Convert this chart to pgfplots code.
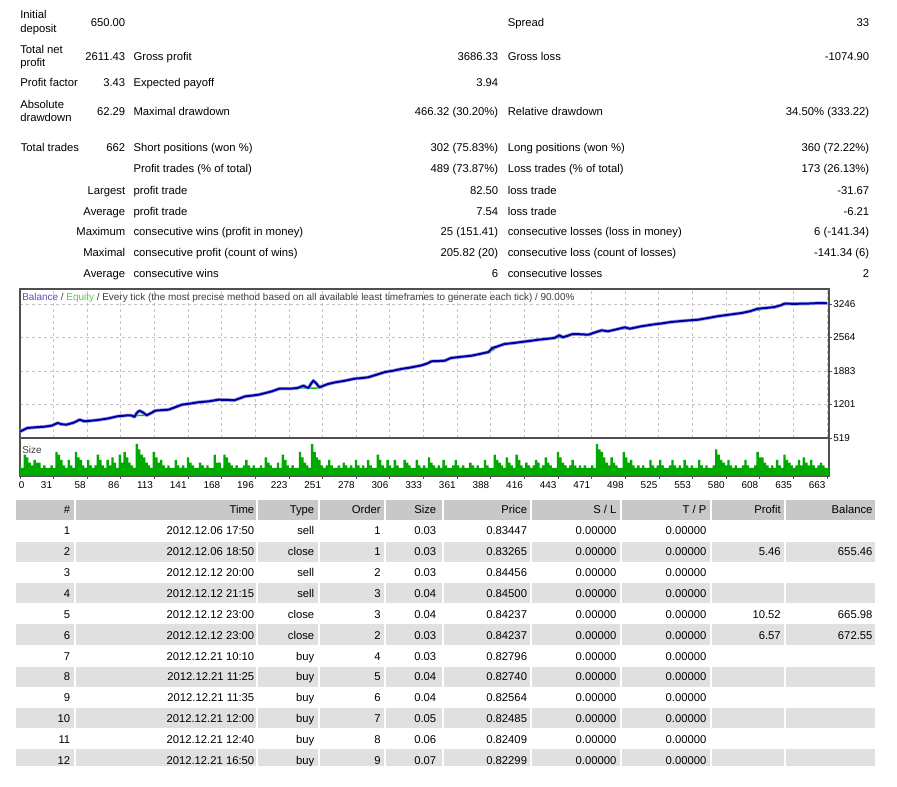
\documentclass[border=0pt]{standalone}
\usepackage{fontspec}
\setmainfont{Liberation Sans}
\usepackage{pgfplots}
\pgfplotsset{compat=1.18}

\definecolor{framegray}{HTML}{505050}
\definecolor{gridgray}{HTML}{C4C4C4}
\definecolor{balblue}{HTML}{0000A0}
\definecolor{balhalo}{HTML}{A0A0E6}
\definecolor{eqgreen}{HTML}{00C000}
\definecolor{sizegreen}{HTML}{00AA00}
\definecolor{hdrgray}{HTML}{C8C8C8}
\definecolor{rowgray}{HTML}{E0E0E0}
\definecolor{lblblue}{HTML}{5050C8}
\definecolor{lblgreen}{HTML}{48CC48}
\definecolor{lbltext}{HTML}{3C3C3C}

\newcommand\rep{\fontsize{8.45pt}{10pt}\selectfont}
\newcommand\chartfont{\fontsize{7.45pt}{9pt}\selectfont}
% text helpers (coordinates in pixels, y measured downwards)
\newcommand\Lt[3]{\node[anchor=mid west] at (#1,-#2) {#3};}
\newcommand\Rt[3]{\node[anchor=mid east] at (#1,-#2) {#3};}
% one row of the deal list; S/L and T/P are always zero
\newcommand\Row[9]{%
  \Rt{70.5}{#1}{#2}\Rt{254.5}{#1}{#3}\Rt{314.5}{#1}{#4}\Rt{381}{#1}{#5}%
  \Rt{436.5}{#1}{#6}\Rt{527.3}{#1}{#7}\Rt{616.7}{#1}{0.00000}%
  \Rt{706.7}{#1}{0.00000}\Rt{781}{#1}{#8}\Rt{872.7}{#1}{#9}}
\newcommand\Band[3]{%
  \foreach \a/\b in {16/74,76/256,258/317.5,319.5/383.5,385.5/441.5,443.5/529.5,531.5/619.5,621.5/709.5,711.5/784,786/875}
    {\fill[#3] (\a,-#1) rectangle (\b,-#2);}}

\begin{document}
\begin{tikzpicture}
\begin{scope}[x=0.75pt,y=0.75pt,every node/.style={inner sep=0pt,font=\rep}]
\path[use as bounding box] (0,0) rectangle (897,-787);

% ---------- summary ----------
\Lt{20}{15}{Initial}\Lt{20}{29.3}{deposit}\Rt{125.5}{22.5}{650.00}
\Lt{507.5}{22.5}{Spread}\Rt{869.5}{22.5}{33}

\Lt{20}{50}{Total net}\Lt{20}{63.3}{profit}\Rt{125.5}{56.7}{2611.43}
\Lt{133.3}{56.7}{Gross profit}\Rt{498.5}{56.7}{3686.33}
\Lt{507.5}{56.7}{Gross loss}\Rt{869.5}{56.7}{-1074.90}

\Lt{20}{82.5}{Profit factor}\Rt{125.5}{82.5}{3.43}
\Lt{133.3}{82.5}{Expected payoff}\Rt{498.5}{82.5}{3.94}

\Lt{20}{105}{Absolute}\Lt{20}{118.3}{drawdown}\Rt{125.5}{111.7}{62.29}
\Lt{133.3}{111.7}{Maximal drawdown}\Rt{498.5}{111.7}{466.32 (30.20\%)}
\Lt{507.5}{111.7}{Relative drawdown}\Rt{869.5}{111.7}{34.50\% (333.22)}

\Lt{20.5}{148.3}{Total trades}\Rt{125.5}{148.3}{662}
\Lt{133.3}{148.3}{Short positions (won \%)}\Rt{498.5}{148.3}{302 (75.83\%)}
\Lt{507.5}{148.3}{Long positions (won \%)}\Rt{869.5}{148.3}{360 (72.22\%)}

\Lt{133.3}{169.3}{Profit trades (\% of total)}\Rt{498.5}{169.3}{489 (73.87\%)}
\Lt{507.5}{169.3}{Loss trades (\% of total)}\Rt{869.5}{169.3}{173 (26.13\%)}

\Rt{125.5}{190.7}{Largest}\Lt{133.3}{190.7}{profit trade}\Rt{498.5}{190.7}{82.50}
\Lt{507.5}{190.7}{loss trade}\Rt{869.5}{190.7}{-31.67}

\Rt{125.5}{211.7}{Average}\Lt{133.3}{211.7}{profit trade}\Rt{498.5}{211.7}{7.54}
\Lt{507.5}{211.7}{loss trade}\Rt{869.5}{211.7}{-6.21}

\Rt{125.5}{232.3}{Maximum}\Lt{133.3}{232.3}{consecutive wins (profit in money)}\Rt{498.5}{232.3}{25 (151.41)}
\Lt{507.5}{232.3}{consecutive losses (loss in money)}\Rt{869.5}{232.3}{6 (-141.34)}

\Rt{125.5}{253.3}{Maximal}\Lt{133.3}{253.3}{consecutive profit (count of wins)}\Rt{498.5}{253.3}{205.82 (20)}
\Lt{507.5}{253.3}{consecutive loss (count of losses)}\Rt{869.5}{253.3}{-141.34 (6)}

\Rt{125.5}{274.3}{Average}\Lt{133.3}{274.3}{consecutive wins}\Rt{498.5}{274.3}{6}
\Lt{507.5}{274.3}{consecutive losses}\Rt{869.5}{274.3}{2}

% ---------- deal list ----------
\begin{scope}
\clip (0,-495) rectangle (897,-765.5);
\Band{500}{520}{hdrgray}
\Band{541.7}{561.7}{rowgray}
\Band{582.7}{603.3}{rowgray}
\Band{624.5}{645}{rowgray}
\Band{666.7}{686.7}{rowgray}
\Band{708}{728}{rowgray}
\Band{749}{769}{rowgray}
\Rt{70.5}{510}{\#}\Rt{254.5}{510}{Time}\Rt{314.5}{510}{Type}\Rt{381}{510}{Order}
\Rt{436.5}{510}{Size}\Rt{527.3}{510}{Price}\Rt{616.7}{510}{S / L}\Rt{706.7}{510}{T / P}
\Rt{781}{510}{Profit}\Rt{872.7}{510}{Balance}
\Row{531}{1}{2012.12.06 17:50}{sell}{1}{0.03}{0.83447}{}{}
\Row{552}{2}{2012.12.06 18:50}{close}{1}{0.03}{0.83265}{5.46}{655.46}
\Row{573}{3}{2012.12.12 20:00}{sell}{2}{0.03}{0.84456}{}{}
\Row{594}{4}{2012.12.12 21:15}{sell}{3}{0.04}{0.84500}{}{}
\Row{614.7}{5}{2012.12.12 23:00}{close}{3}{0.04}{0.84237}{10.52}{665.98}
\Row{635.5}{6}{2012.12.12 23:00}{close}{2}{0.03}{0.84237}{6.57}{672.55}
\Row{656.7}{7}{2012.12.21 10:10}{buy}{4}{0.03}{0.82796}{}{}
\Row{677}{8}{2012.12.21 11:25}{buy}{5}{0.04}{0.82740}{}{}
\Row{698}{9}{2012.12.21 11:35}{buy}{6}{0.04}{0.82564}{}{}
\Row{719}{10}{2012.12.21 12:00}{buy}{7}{0.05}{0.82485}{}{}
\Row{740}{11}{2012.12.21 12:40}{buy}{8}{0.06}{0.82409}{}{}
\Row{760.5}{12}{2012.12.21 16:50}{buy}{9}{0.07}{0.82299}{}{}
\end{scope}
\end{scope}

% ---------- balance / equity ----------
\begin{axis}[at={(15pt,-216.75pt)}, anchor=north west, scale only axis,
  width=606.75pt, height=111.75pt,
  xmin=0, xmax=664.6, ymin=519, ymax=3551,
  axis line style={draw=framegray, line width=1.1pt},
  xtick={27.625,55.25,82.875,110.5,138.125,165.75,193.375,221,248.625,276.25,303.875,331.5,359.125,386.75,414.375,442,469.625,497.25,524.875,552.5,580.125,607.75,635.375,663},
  xticklabels={}, xtick style={draw=none},
  ytick={519,1200.75,1882.5,2564.25,3246},
  yticklabels={519,1201,1883,2564,3246},
  ytick pos=right, yticklabel pos=right,
  tick align=outside, major tick length=2.25pt,
  ytick style={draw=framegray, line width=0.6pt},
  yticklabel style={font=\chartfont, anchor=west, inner sep=0pt, xshift=0.8pt},
  /pgf/number format/assume math mode=true,
  xmajorgrids, ymajorgrids,
  grid style={gridgray, line width=0.7pt, dash pattern=on 2.25pt off 2.25pt},
  clip=true]
\addplot[eqgreen, line width=1.1pt] coordinates {
(0,650)(6,722)(12,735)(20,749)(26,770)(31,824)(34,790)(36,780)(38,785)(44,830)(49,891)(51,855)(53,855)(58,870)(64,885)(72,915)(80,960)(89,981)(92,970)(94,960)(96,975)(98,978)(101,978)(104,981)(108,1020)(111,1060)(116,1085)(122,1095)(128,1150)(133,1197)(140,1220)(146,1245)(155,1265)(163,1298)(166,1280)(170,1285)(174,1280)(176,1286)(181,1330)(185,1367)(190,1380)(196,1400)(201,1430)(207,1469)(213,1522)(222,1522)(228,1536)(231,1540)(233,1540)(235,1540)(237,1536)(239,1536)(241,1536)(243,1536)(246,1545)(250,1590)(253,1618)(259,1652)(266,1680)(275,1726)(281,1740)(286,1754)(292,1800)(300,1862)(306,1885)(313,1923)(320,1950)(330,1998)(335,2030)(338,2060)(344,2085)(349,2092)(354,2147)(362,2170)(371,2194)(378,2230)(385,2269)(386,2290)(388,2300)(392,2370)(398,2432)(405,2450)(412,2473)(419,2495)(426,2519)(432,2535)(439,2554)(443,2560)(446,2560)(450,2600)(454,2635)(460,2630)(467,2621)(472,2665)(478,2690)(483,2685)(490,2730)(497,2745)(501,2740)(510,2790)(519,2825)(527,2850)(535,2880)(546,2905)(557,2926)(565,2960)(573,2996)(583,3030)(593,3063)(600,3100)(606,3120)(610,3140)(613,3165)(620,3185)(625,3220)(628,3235)(636,3240)(645,3240)(650,3245)(654,3262)(663,3261)};
\addplot[balhalo, line width=2.6pt, line join=round] coordinates {
(0,650)(6,722)(12,735)(20,749)(26,770)(31,824)(34,800)(38,790)(44,830)(49,891)(53,859)(58,870)(64,885)(72,915)(80,960)(89,981)(92,975)(94,946)(96,1030)(98,1075)(101,1040)(104,981)(108,1030)(111,1075)(116,1085)(122,1095)(128,1150)(133,1197)(140,1220)(146,1245)(155,1265)(163,1298)(170,1295)(176,1286)(181,1330)(185,1367)(190,1380)(196,1400)(201,1430)(207,1469)(213,1522)(222,1522)(228,1536)(231,1565)(233,1583)(235,1555)(237,1536)(239,1620)(241,1685)(243,1640)(246,1550)(250,1590)(253,1618)(259,1652)(266,1680)(275,1726)(281,1740)(286,1754)(292,1800)(300,1862)(306,1885)(313,1923)(320,1950)(330,1998)(335,2040)(338,2080)(344,2085)(349,2092)(354,2147)(362,2170)(371,2194)(378,2230)(385,2269)(388,2350)(392,2380)(398,2432)(405,2450)(412,2473)(419,2495)(426,2519)(432,2535)(439,2554)(443,2609)(446,2568)(450,2600)(454,2635)(460,2630)(467,2621)(472,2665)(478,2711)(483,2690)(490,2730)(497,2772)(501,2743)(510,2790)(519,2825)(527,2850)(535,2880)(546,2905)(557,2926)(565,2960)(573,2996)(583,3030)(593,3063)(600,3100)(606,3150)(613,3165)(620,3185)(625,3220)(628,3252)(636,3250)(645,3252)(654,3262)(663,3261)};
\addplot[balblue, line width=1.5pt, line join=round] coordinates {
(0,650)(6,722)(12,735)(20,749)(26,770)(31,824)(34,800)(38,790)(44,830)(49,891)(53,859)(58,870)(64,885)(72,915)(80,960)(89,981)(92,975)(94,946)(96,1030)(98,1075)(101,1040)(104,981)(108,1030)(111,1075)(116,1085)(122,1095)(128,1150)(133,1197)(140,1220)(146,1245)(155,1265)(163,1298)(170,1295)(176,1286)(181,1330)(185,1367)(190,1380)(196,1400)(201,1430)(207,1469)(213,1522)(222,1522)(228,1536)(231,1565)(233,1583)(235,1555)(237,1536)(239,1620)(241,1685)(243,1640)(246,1550)(250,1590)(253,1618)(259,1652)(266,1680)(275,1726)(281,1740)(286,1754)(292,1800)(300,1862)(306,1885)(313,1923)(320,1950)(330,1998)(335,2040)(338,2080)(344,2085)(349,2092)(354,2147)(362,2170)(371,2194)(378,2230)(385,2269)(388,2350)(392,2380)(398,2432)(405,2450)(412,2473)(419,2495)(426,2519)(432,2535)(439,2554)(443,2609)(446,2568)(450,2600)(454,2635)(460,2630)(467,2621)(472,2665)(478,2711)(483,2690)(490,2730)(497,2772)(501,2743)(510,2790)(519,2825)(527,2850)(535,2880)(546,2905)(557,2926)(565,2960)(573,2996)(583,3030)(593,3063)(600,3100)(606,3150)(613,3165)(620,3185)(625,3220)(628,3252)(636,3250)(645,3252)(654,3262)(663,3261)};
\node[anchor=mid west, inner sep=0pt, font=\chartfont] at (rel axis cs:0.0025,0.945)
  {\textcolor{lblblue}{Balance} \textcolor{lbltext}{/} \textcolor{lblgreen}{Equity} \textcolor{lbltext}{/ Every tick (the most precise method based on all available least timeframes to generate each tick) / 90.00\%}};
\end{axis}

% ---------- position size ----------
\begin{axis}[at={(15pt,-328.5pt)}, anchor=north west, scale only axis,
  width=606.75pt, height=28.5pt,
  xmin=0, xmax=664.6, ymin=0, ymax=0.1425,
  axis line style={draw=framegray, line width=1.1pt},
  ytick=\empty,
  xtick={27.625,55.25,82.875,110.5,138.125,165.75,193.375,221,248.625,276.25,303.875,331.5,359.125,386.75,414.375,442,469.625,497.25,524.875,552.5,580.125,607.75,635.375,663},
  xticklabels={31,58,86,113,141,168,196,223,251,278,306,333,361,388,416,443,471,498,525,553,580,608,635,663},
  extra x ticks={0}, extra x tick labels={0},
  extra x tick style={xticklabel style={anchor=north west, xshift=0pt}},
  xtick pos=bottom, tick align=outside, major tick length=2.25pt,
  xtick style={draw=framegray, line width=0.6pt},
  xticklabel style={font=\chartfont, anchor=north east, inner sep=0pt, xshift=-1pt, yshift=-1.5pt},
  /pgf/number format/assume math mode=true]
\addplot[ybar, bar width=1.95, fill=sizegreen, draw=none] coordinates {
(0,.04)(2,.03)(4,.08)(6,.07)(8,.05)(10,.04)(12,.06)(14,.05)(16,.05)(18,.03)(20,.04)(22,.03)(24,.03)(26,.04)(28,.03)(30,.09)(32,.08)(34,.06)(36,.04)(38,.03)(40,.06)(42,.04)(44,.03)(46,.09)(48,.07)(50,.06)(52,.04)(54,.03)(56,.06)(58,.04)(60,.03)(62,.04)(64,.08)(66,.06)(68,.04)(70,.03)(72,.06)(74,.04)(76,.07)(78,.05)(80,.03)(82,.08)(84,.05)(86,.09)(88,.07)(90,.05)(92,.04)(94,.03)(96,.12)(98,.10)(100,.08)(102,.07)(104,.05)(106,.04)(108,.03)(110,.09)(112,.07)(114,.05)(116,.06)(118,.04)(120,.03)(122,.04)(124,.03)(126,.03)(128,.06)(130,.04)(132,.03)(134,.04)(136,.03)(138,.07)(140,.05)(142,.04)(144,.03)(146,.03)(148,.05)(150,.04)(152,.03)(154,.04)(156,.03)(158,.03)(160,.08)(162,.05)(164,.05)(166,.03)(168,.08)(170,.07)(172,.05)(174,.04)(176,.03)(178,.04)(180,.03)(182,.03)(184,.04)(186,.06)(188,.04)(190,.03)(192,.04)(194,.03)(196,.03)(198,.04)(200,.03)(202,.07)(204,.05)(206,.04)(208,.03)(210,.03)(212,.05)(214,.03)(216,.08)(218,.06)(220,.04)(222,.03)(224,.04)(226,.03)(228,.03)(230,.09)(232,.07)(234,.05)(236,.04)(238,.03)(240,.12)(242,.09)(244,.07)(246,.06)(248,.04)(250,.03)(252,.04)(254,.06)(256,.04)(258,.03)(260,.03)(262,.04)(264,.03)(266,.05)(268,.04)(270,.03)(272,.04)(274,.03)(276,.06)(278,.04)(280,.03)(282,.04)(284,.03)(286,.06)(288,.04)(290,.03)(292,.03)(294,.08)(296,.06)(298,.04)(300,.03)(302,.06)(304,.04)(306,.03)(308,.06)(310,.04)(312,.03)(314,.03)(316,.06)(318,.05)(320,.04)(322,.03)(324,.03)(326,.06)(328,.04)(330,.03)(332,.04)(334,.03)(336,.07)(338,.05)(340,.04)(342,.03)(344,.04)(346,.03)(348,.06)(350,.04)(352,.03)(354,.03)(356,.04)(358,.06)(360,.04)(362,.03)(364,.04)(366,.03)(368,.03)(370,.05)(372,.04)(374,.03)(376,.04)(378,.03)(380,.03)(382,.06)(384,.04)(386,.03)(388,.03)(390,.08)(392,.06)(394,.05)(396,.04)(398,.03)(400,.07)(402,.05)(404,.04)(406,.03)(408,.08)(410,.06)(412,.04)(414,.03)(416,.05)(418,.04)(420,.03)(422,.04)(424,.06)(426,.05)(428,.03)(430,.04)(432,.07)(434,.05)(436,.04)(438,.03)(440,.03)(442,.09)(444,.07)(446,.05)(448,.04)(450,.03)(452,.04)(454,.06)(456,.04)(458,.03)(460,.04)(462,.03)(464,.04)(466,.03)(468,.03)(470,.04)(472,.03)(474,.12)(476,.10)(478,.09)(480,.07)(482,.05)(484,.04)(486,.07)(488,.05)(490,.04)(492,.03)(494,.03)(496,.09)(498,.07)(500,.05)(502,.06)(504,.04)(506,.03)(508,.04)(510,.03)(512,.04)(514,.03)(516,.03)(518,.06)(520,.04)(522,.03)(524,.04)(526,.06)(528,.04)(530,.03)(532,.03)(534,.04)(536,.06)(538,.04)(540,.03)(542,.04)(544,.03)(546,.06)(548,.04)(550,.03)(552,.04)(554,.03)(556,.03)(558,.06)(560,.04)(562,.03)(564,.04)(566,.03)(568,.03)(570,.04)(572,.10)(574,.08)(576,.06)(578,.05)(580,.04)(582,.06)(584,.04)(586,.03)(588,.04)(590,.03)(592,.03)(594,.04)(596,.06)(598,.04)(600,.03)(602,.03)(604,.04)(606,.09)(608,.07)(610,.07)(612,.05)(614,.04)(616,.03)(618,.04)(620,.03)(622,.06)(624,.04)(626,.03)(628,.08)(630,.06)(632,.05)(634,.04)(636,.03)(638,.04)(640,.06)(642,.04)(644,.07)(646,.05)(648,.04)(650,.06)(652,.04)(654,.03)(656,.04)(658,.05)(660,.04)(662,.03)(664,.03)};
\node[anchor=mid west, inner sep=0pt, font=\chartfont, lbltext] at (rel axis cs:0.0025,0.68) {Size};
\end{axis}
\end{tikzpicture}
\end{document}
